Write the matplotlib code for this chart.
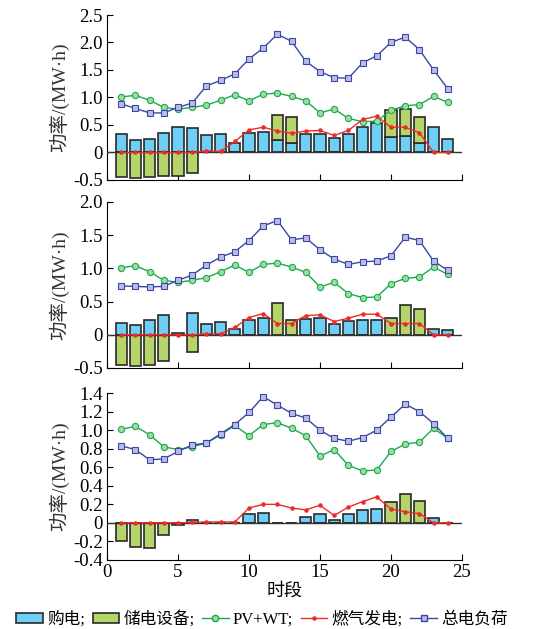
import numpy as np
import matplotlib
matplotlib.use("Agg")
import matplotlib.pyplot as plt
from matplotlib.patches import Patch
from matplotlib.lines import Line2D

plt.rcParams['font.family'] = ['Liberation Serif', 'Noto Sans CJK SC']
plt.rcParams['axes.unicode_minus'] = False

hours = np.arange(1, 25)

# PV+WT output (same in all three cases)
pv_wt = [1.01, 1.04, 0.95, 0.82, 0.79, 0.82, 0.86, 0.95, 1.05, 0.94, 1.06, 1.08,
         1.02, 0.94, 0.72, 0.79, 0.62, 0.56, 0.57, 0.77, 0.85, 0.87, 1.02, 0.91]

# case 1
load1 = [0.885, 0.80, 0.72, 0.72, 0.82, 0.90, 1.21, 1.31, 1.43, 1.70, 1.90, 2.15,
         2.02, 1.66, 1.47, 1.36, 1.35, 1.63, 1.76, 2.00, 2.10, 1.87, 1.50, 1.16]
gas1 = [0, 0, 0, 0, 0, 0, 0.03, 0.02, 0.20, 0.41, 0.46, 0.39,
        0.35, 0.39, 0.40, 0.31, 0.40, 0.60, 0.66, 0.46, 0.46, 0.36, 0, 0]
buy1 = [0.33, 0.22, 0.24, 0.35, 0.47, 0.45, 0.32, 0.34, 0.18, 0.36, 0.38, 0.22,
        0.18, 0.33, 0.33, 0.27, 0.34, 0.47, 0.53, 0.29, 0.30, 0.18, 0.47, 0.25]
store1 = [-0.45, -0.47, -0.45, -0.42, -0.42, -0.38, 0, 0, 0, 0, 0, 0.47,
          0.46, 0, 0, 0, 0, 0, 0, 0.49, 0.49, 0.47, 0, 0]

# case 2
load2 = [0.735, 0.73, 0.72, 0.73, 0.82, 0.90, 1.05, 1.17, 1.25, 1.42, 1.64, 1.72,
         1.43, 1.46, 1.28, 1.14, 1.06, 1.10, 1.11, 1.19, 1.47, 1.42, 1.11, 0.97]
gas2 = [0, 0, 0, 0, 0, 0, 0.015, 0.015, 0.11, 0.26, 0.32, 0.17,
        0.17, 0.29, 0.30, 0.20, 0.25, 0.31, 0.31, 0.17, 0.17, 0.17, 0, 0]
buy2 = [0.18, 0.15, 0.23, 0.30, 0.03, 0.33, 0.17, 0.19, 0.09, 0.22, 0.26, 0,
        0, 0.24, 0.25, 0.16, 0.21, 0.23, 0.22, 0, 0, 0, 0.09, 0.065]
store2 = [-0.45, -0.47, -0.45, -0.39, 0, -0.26, 0, 0, 0, 0, 0, 0.48,
          0.23, 0, 0, 0, 0, 0, 0, 0.26, 0.45, 0.39, 0, 0]

# case 3
load3 = [0.83, 0.79, 0.68, 0.69, 0.77, 0.84, 0.86, 0.96, 1.06, 1.19, 1.36, 1.27,
         1.18, 1.13, 1.00, 0.91, 0.88, 0.92, 1.00, 1.14, 1.28, 1.20, 1.07, 0.91]
gas3 = [0, 0, 0, 0, 0, 0.005, 0.01, 0.01, 0.01, 0.16, 0.20, 0.20,
        0.16, 0.14, 0.19, 0.08, 0.17, 0.23, 0.28, 0.15, 0.12, 0.10, 0, 0]
buy3 = [0, 0, 0, 0, 0, 0.03, 0, 0, 0, 0.10, 0.11, 0,
        0, 0.06, 0.10, 0.035, 0.10, 0.135, 0.15, 0, 0, 0, 0.05, 0]
store3 = [-0.19, -0.26, -0.27, -0.13, -0.025, 0, 0, 0, 0, 0, 0, 0,
          0, 0, 0, 0, 0, 0, 0, 0.22, 0.31, 0.24, 0, 0]

cases = [(load1, gas1, buy1, store1), (load2, gas2, buy2, store2), (load3, gas3, buy3, store3)]
yranges = [(-0.5, 2.5, np.arange(-0.5, 2.51, 0.5)),
           (-0.5, 2.0, np.arange(-0.5, 2.01, 0.5)),
           (-0.4, 1.4, np.arange(-0.4, 1.41, 0.2))]

c_buy = '#6dcff6'
c_store = '#b5d56a'
c_load = '#3a47a5'
c_pv = '#1aab4b'
c_gas = '#ee2a2a'
c_edge = '#2a2a2a'

fig = plt.figure(figsize=(5.52, 6.29), dpi=100)
W, H = 552, 629
boxes = [(15, 180), (202, 368), (393, 560)]

for k, (load, gas, buy, store) in enumerate(cases):
    top, bot = boxes[k]
    ax = fig.add_axes([107 / W, 1 - bot / H, 355 / W, (bot - top) / H])
    buy = np.array(buy)
    store = np.array(store)
    bottom = np.where(store > 0, buy, 0)
    ax.bar(hours, buy, width=0.8, color=c_buy, edgecolor=c_edge, linewidth=1.2, zorder=2)
    ax.bar(hours, store, width=0.8, bottom=bottom, color=c_store, edgecolor=c_edge,
           linewidth=1.2, zorder=2)
    ax.axhline(0, color='#333333', lw=1.0, zorder=3)
    ax.plot(hours, pv_wt, color=c_pv, lw=1.0, marker='o', ms=4.5, mfc='#9ed9a8',
            mec=c_pv, mew=0.8, zorder=4)
    ax.plot(hours, gas, color=c_gas, lw=1.0, marker='.', ms=4.5, zorder=5)
    ax.plot(hours, load, color=c_load, lw=1.0, marker='s', ms=4.5, mfc='#b8bde6',
            mec=c_load, mew=0.8, zorder=4)

    lo, hi, ticks = yranges[k]
    ax.set_ylim(lo, hi)
    ax.set_xlim(0, 25)
    ax.set_yticks(ticks)
    labs = []
    for t in ticks:
        if abs(t) < 1e-9:
            labs.append('0')
        else:
            labs.append('%.1f' % t)
    ax.set_yticklabels(labs)
    ax.set_xticks([0, 5, 10, 15, 20, 25])
    ax.spines['top'].set_visible(False)
    ax.spines['right'].set_visible(False)
    ax.tick_params(direction='in', length=4, labelsize=13.5, width=0.8, pad=3)
    ax.set_ylabel('功率/(MW·h)', fontsize=14, labelpad=3, color='#333333')
    if k < 2:
        ax.tick_params(axis='x', labelbottom=False)
    else:
        ax.set_xlabel('时段', fontsize=13, labelpad=1)

handles = [
    Patch(facecolor=c_buy, edgecolor=c_edge, lw=1.2),
    Patch(facecolor=c_store, edgecolor=c_edge, lw=1.2),
    Line2D([], [], color=c_pv, lw=1.0, marker='o', ms=4.5, mfc='#9ed9a8', mec=c_pv),
    Line2D([], [], color=c_gas, lw=1.0, marker='.', ms=4.5),
    Line2D([], [], color=c_load, lw=1.0, marker='s', ms=4.5, mfc='#b8bde6', mec=c_load),
]
labels = ['购电;', '储电设备;', 'PV+WT;', '燃气发电;', '总电负荷']
fig.legend(handles, labels, loc='center', bbox_to_anchor=(262 / W, 1 - 619 / H), ncol=5,
           frameon=False, fontsize=12, handlelength=1.6, handleheight=0.55,
           handletextpad=0.25, columnspacing=0.45, borderaxespad=0, borderpad=0)

fig.savefig('out.png', dpi=100)
